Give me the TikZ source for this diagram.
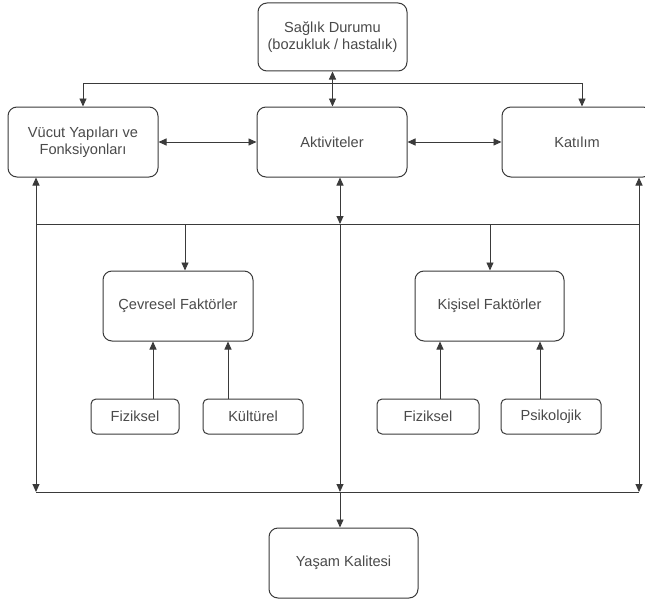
\documentclass[tikz,border=0pt]{standalone}
\usepackage{fontspec}
\setmainfont{Liberation Sans}
\usetikzlibrary{arrows.meta}
\definecolor{txt}{HTML}{4A4A4A}
\definecolor{ln}{HTML}{3A3A3A}
\begin{document}
\begin{tikzpicture}[x=1pt,y=-1pt,
  box/.style={draw=ln, line width=1pt, rounded corners=9pt, fill=white, text=txt,
    font=\fontsize{14.6}{17.5}\selectfont, align=center, inner sep=0pt},
  sbox/.style={box, rounded corners=5pt},
  conn/.style={draw=ln, line width=0.9pt},
  arr/.style={conn, -{Triangle[width=7pt,length=8pt]}},
  darr/.style={conn, {Triangle[width=7pt,length=8pt]}-{Triangle[width=7pt,length=8pt]}}]
\useasboundingbox (0,0) rectangle (645,602);

% nodes
\node[box, minimum width=149pt, minimum height=68pt] (saglik) at (332.5,37) {Sağlık Durumu\\(bozukluk / hastalık)};
\node[box, minimum width=150pt, minimum height=70pt] (vucut) at (83,142) {Vücut Yapıları ve\\Fonksiyonları};
\node[box, minimum width=150pt, minimum height=70pt] (aktiv) at (332,142) {Aktiviteler};
\node[box, minimum width=150pt, minimum height=70pt] (katilim) at (577,142) {Katılım};
\node[box, minimum width=150pt, minimum height=70pt] (cevre) at (178,306) {Çevresel Faktörler};
\node[box, minimum width=149pt, minimum height=70pt] (kisisel) at (489.5,306) {Kişisel Faktörler};
\node[sbox, minimum width=88pt, minimum height=35pt] (fiz1) at (135,416.5) {Fiziksel};
\node[sbox, minimum width=100pt, minimum height=35pt] (kult) at (253,416.5) {Kültürel};
\node[sbox, minimum width=102pt, minimum height=35pt] (fiz2) at (428,416.5) {Fiziksel};
\node[sbox, minimum width=100pt, minimum height=35pt] (psi) at (551,416.5) {Psikolojik};
\node[box, minimum width=149pt, minimum height=70pt] (yasam) at (343.5,563) {Yaşam Kalitesi};

% junction points
\coordinate (tL) at (83,83);
\coordinate (tR) at (582,83);
\coordinate (mL) at (36,224);
\coordinate (mR) at (639,224);
\coordinate (mM) at (340,224);
\coordinate (c1) at (185,224);
\coordinate (c2) at (490,224);
\coordinate (bL) at (36,492);
\coordinate (bR) at (639,492);
\coordinate (bM) at (340,492);

% top
\draw[conn] (tL) -- (tR);
\draw[arr] (tL) -- (tL |- vucut.north);
\draw[arr] (tR) -- (tR |- katilim.north);
\draw[darr] (saglik.south) -- (saglik.south |- aktiv.north);

% middle row
\draw[darr] (vucut.east) -- (aktiv.west);
\draw[darr] (aktiv.east) -- (katilim.west);

% line under the row
\draw[conn] (mL) -- (mR);
\draw[darr] (mM |- aktiv.south) -- (mM);
\draw[arr] (mM) -- (bM);
\draw[arr] (c1) -- (c1 |- cevre.north);
\draw[arr] (c2) -- (c2 |- kisisel.north);

% side verticals
\draw[darr] (bL |- vucut.south) -- (bL);
\draw[darr] (bR |- katilim.south) -- (bR);

% bottom line
\draw[conn] (bL) -- (bR);
\draw[arr] (bM) -- (bM |- yasam.north);

% factor arrows
\draw[arr] ([xshift=18pt]fiz1.north) -- ([xshift=18pt]fiz1.north |- cevre.south);
\draw[arr] ([xshift=-25pt]kult.north) -- ([xshift=-25pt]kult.north |- cevre.south);
\draw[arr] ([xshift=12pt]fiz2.north) -- ([xshift=12pt]fiz2.north |- kisisel.south);
\draw[arr] ([xshift=-11pt]psi.north) -- ([xshift=-11pt]psi.north |- kisisel.south);
\end{tikzpicture}
\end{document}
